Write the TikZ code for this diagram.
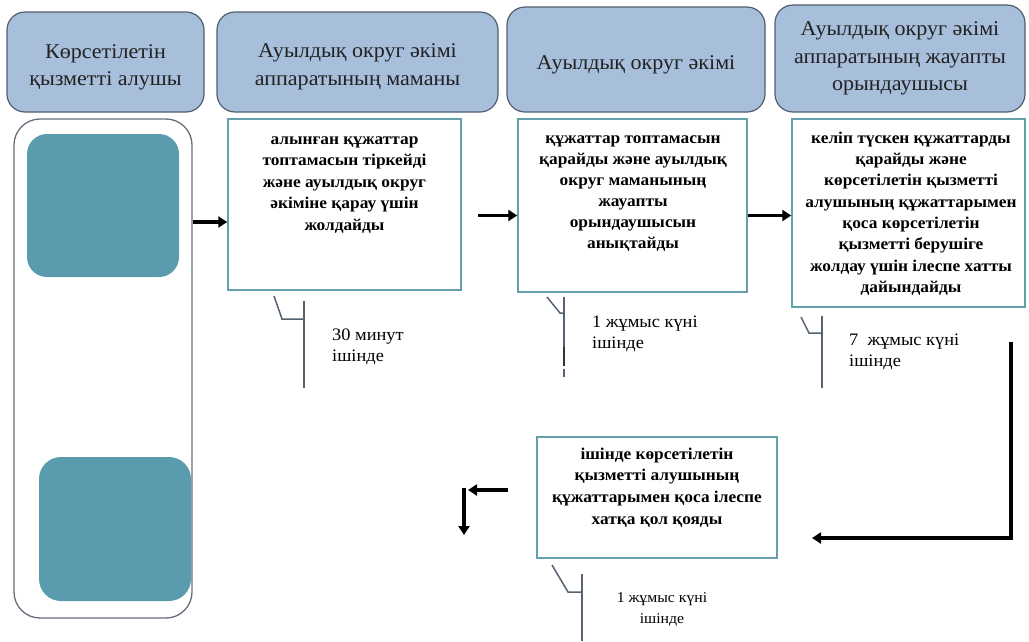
\documentclass[tikz,border=0pt]{standalone}
\usepackage{fontspec}
\setmainfont{Liberation Serif}
\newfontfamily\widefont{Liberation Serif}[FakeStretch=1.05]
\usetikzlibrary{arrows.meta}

% strut that fixes the height of a first line
\newcommand{\firstht}[1]{\rule{0pt}{#1}}

\definecolor{hdrfill}{RGB}{168,191,220}
\definecolor{hdrline}{RGB}{80,94,110}
\definecolor{boxline}{RGB}{100,160,172}
\definecolor{tealfill}{RGB}{90,155,174}
\definecolor{laneline}{RGB}{100,110,122}
\definecolor{tickline}{RGB}{84,98,114}
\definecolor{hdrtextcol}{RGB}{34,34,34}

\tikzset{
  hdr/.style={draw=hdrline, line width=1.2pt, fill=hdrfill, rounded corners=18pt, inner sep=0pt},
  hdrtext/.style={anchor=north, align=center, inner sep=0pt, text=hdrtextcol,
    font=\widefont\fontsize{21}{27.5}\selectfont},
  stepbox/.style={draw=boxline, line width=1.5pt, fill=white, inner sep=0pt},
  steptext/.style={anchor=north, align=center, inner sep=0pt,
    font=\widefont\bfseries\fontsize{16.5}{21.5}\selectfont},
  timetext/.style={anchor=north west, align=left, inner sep=0pt,
    font=\widefont\fontsize{17.5}{21.5}\selectfont},
  flow/.style={line width=3.2pt, -{Triangle[length=9pt,width=11pt]}},
  tick/.style={draw=tickline, line width=1.5pt},
}

\begin{document}
\begin{tikzpicture}[x=1pt,y=-1pt]
\useasboundingbox (0,0) rectangle (1029,641);

% column headers
\node[hdr, minimum width=197pt, minimum height=100pt] (h1) at (105.5,62) {};
\node[hdr, minimum width=281pt, minimum height=100pt] (h2) at (357.5,62) {};
\node[hdr, minimum width=258pt, minimum height=105pt] (h3) at (636,59.5) {};
\node[hdr, minimum width=250pt, minimum height=107pt] (h4) at (900,58.5) {};
\node[hdrtext] (h1t) at (105.5,41) {\firstht{17pt}Көрсетілетін\\қызметті алушы};
\node[hdrtext] (h2t) at (357.5,40.5) {\firstht{17pt}Ауылдық округ әкімі\\аппаратының маманы};
\node[hdrtext] (h3t) at (636,52) {\firstht{17pt}Ауылдық округ әкімі};
\node[hdrtext] (h4t) at (900,18.5) {\firstht{17pt}Ауылдық округ әкімі\\аппаратының жауапты\\орындаушысы};

% service recipient lane
\node[draw=laneline, line width=1.3pt, rounded corners=26pt, minimum width=178pt, minimum height=499pt] (lane) at (103,368.5) {};
\node[fill=tealfill, rounded corners=20pt, minimum width=152pt, minimum height=143pt] (t1) at (103,205.5) {};
\node[fill=tealfill, rounded corners=22pt, minimum width=152pt, minimum height=144pt] (t2) at (115,529) {};

% process steps
\node[stepbox, minimum width=233pt, minimum height=171pt] (a) at (344.5,204.5) {};
\node[steptext] (atx) at (344.5,130) {\firstht{14pt}алынған құжаттар\\топтамасын тіркейді\\және ауылдық округ\\әкіміне қарау үшін\\жолдайды};

\node[stepbox, minimum width=229pt, minimum height=173pt] (b) at (632.5,205.5) {};
\node[steptext, font=\widefont\bfseries\fontsize{16.5}{21}\selectfont] (btx) at (633,129) {\firstht{14pt}құжаттар топтамасын\\қарайды және ауылдық\\округ маманының\\жауапты\\орындаушысын\\анықтайды};

\node[stepbox, minimum width=233pt, minimum height=188pt] (c) at (908.5,213) {};
\node[steptext, font=\widefont\bfseries\fontsize{16.5}{21.3}\selectfont] (ctx) at (911,129) {\firstht{14pt}келіп түскен құжаттарды\\қарайды және\\көрсетілетін қызметті\\алушының құжаттарымен\\қоса көрсетілетін\\қызметті берушіге\\жолдау үшін ілеспе хатты\\дайындайды};

\node[stepbox, minimum width=240pt, minimum height=121pt] (d) at (657,497.5) {};
\node[steptext, font=\widefont\bfseries\fontsize{16.5}{21.7}\selectfont] (dtx) at (657,445) {\firstht{14pt}ішінде көрсетілетін\\қызметті алушының\\құжаттарымен қоса ілеспе\\хатқа қол қояды};

% flow between steps
\coordinate (r1) at (0,222);
\coordinate (r2) at (0,215.5);
\coordinate (a2) at (478,215.5);
\draw[flow] (lane.east |- r1) -- (a.west |- r1);
\draw[flow] (a2) -- (b.west |- r2);
\draw[flow] (b.east |- r2) -- (c.west |- r2);

\coordinate (ctop) at (1011,342);
\coordinate (dret) at (812,538);
\draw[flow] (ctop) |- (dret);

\coordinate (rs) at (508,490);
\coordinate (re) at (468,490);
\coordinate (ds) at (464,488.4);
\coordinate (de) at (464,535);
\draw[flow] (rs) -- (re);
\draw[flow] (ds) -- (de);

% time marks
\coordinate (ta1) at (274,296); \coordinate (ta2) at (282,319);
\coordinate (ta3) at (304,319); \coordinate (ta4) at (304,301); \coordinate (ta5) at (304,388);
\draw[tick] (ta1) -- (ta2) -- (ta3);
\draw[tick] (ta4) -- (ta5);
\node[timetext] (tma) at (332,325) {\firstht{15pt}30 минут\\ішінде};

\coordinate (tb1) at (547,297); \coordinate (tb2) at (560,313);
\coordinate (tb3) at (564,313); \coordinate (tb4) at (564,297); \coordinate (tb5) at (564,366);
\coordinate (tb6) at (564,347); \coordinate (tb7) at (564,369); \coordinate (tb8) at (564,377);
\draw[tick] (tb1) -- (tb2) -- (tb3);
\draw[tick] (tb4) -- (tb5);
\draw[tick, line width=2.6pt, draw=black!80] (tb6) -- (tb5);
\draw[tick] (tb7) -- (tb8);
\node[timetext] (tmb) at (592,312) {\firstht{15pt}1 жұмыс күні\\ішінде};

\coordinate (tc1) at (801,317); \coordinate (tc2) at (809,333);
\coordinate (tc3) at (822,333); \coordinate (tc4) at (822,316); \coordinate (tc5) at (822,388);
\draw[tick] (tc1) -- (tc2) -- (tc3);
\draw[tick] (tc4) -- (tc5);
\node[timetext] (tmc) at (849,330) {\firstht{15pt}7\ \ жұмыс күні\\ішінде};

\coordinate (td1) at (552,565); \coordinate (td2) at (568,592);
\coordinate (td3) at (582,592); \coordinate (td4) at (582,574); \coordinate (td5) at (582,641);
\draw[tick] (td1) -- (td2) -- (td3);
\draw[tick] (td4) -- (td5);
\node[timetext, anchor=north, align=center, font=\widefont\fontsize{15}{21}\selectfont] (tmd) at (662,589) {\firstht{13pt}1 жұмыс күні\\ішінде};

\end{tikzpicture}
\end{document}
